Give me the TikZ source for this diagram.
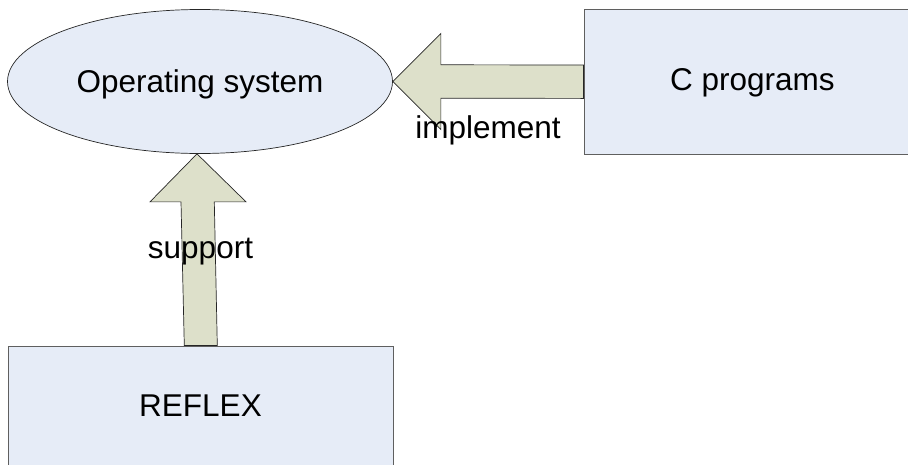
\documentclass[tikz,border=0pt]{standalone}
\usepackage{fontspec}
\setmainfont{Liberation Sans}
\usetikzlibrary{shapes.geometric,calc}
\definecolor{panelfill}{RGB}{230,236,247}
\definecolor{panelline}{RGB}{95,95,95}
\definecolor{arrowfill}{RGB}{221,224,202}
\begin{document}
\begin{tikzpicture}[x=1pt,y=-1pt,
  txt/.style={font=\fontsize{31.5}{38}\selectfont, text height=22.5pt, text depth=0pt, inner sep=0pt},
  panel/.style={txt, rectangle, draw=panelline, fill=panelfill, line width=0.9pt},
  osnode/.style={txt, ellipse, draw=black!85, fill=panelfill, line width=0.7pt,
                 minimum width=385pt, minimum height=144pt},
  blockarrow/.style={draw=black!85, fill=arrowfill, line width=0.7pt, line join=miter}]
\useasboundingbox (0,0) rectangle (908,464);

% components
\node[osnode] (os) at (200,81.5) {Operating system};
\node[panel, minimum width=337pt, minimum height=145pt, text depth=5pt] (cprog) at (752.5,81.7) {C programs};
\node[panel, minimum width=385pt, minimum height=119pt] (reflex) at (200.5,405.5) {REFLEX};

% block arrow: C programs -> operating system
\draw[blockarrow] (os.east) -- ++(48,-48) -- ++(0,31.3)
  -- ($(cprog.west)+(0,-16.7)$) -- ($(cprog.west)+(0,16.7)$)
  -- ($(os.east)+(48,16.7)$) -- ++(0,31.3) -- cycle;

% block arrow: REFLEX -> operating system
\coordinate (uptip) at ($(os.south)+(-3,0)$);
\draw[blockarrow] (uptip) -- ++(-47,48) -- ++(31,0)
  -- ($(reflex.north)+(-16.2,0)$) -- ($(reflex.north)+(16.8,0)$)
  -- ($(uptip)+(17.3,48)$) -- ($(uptip)+(49,48)$) -- cycle;

% arrow labels
\node[txt] (impl) at (488,127) {implement};
\node[txt] (supp) at (200.5,247) {support};
\end{tikzpicture}
\end{document}
